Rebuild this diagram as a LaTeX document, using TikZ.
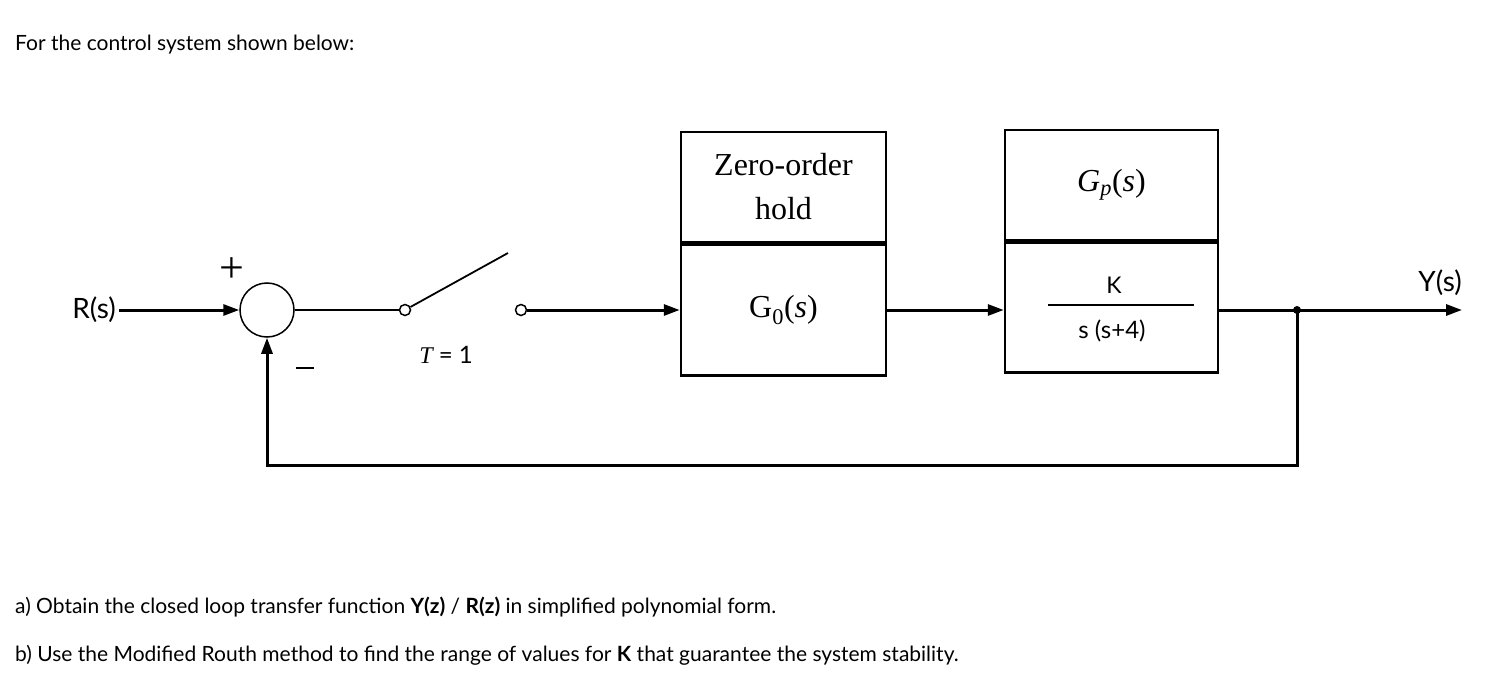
\documentclass[tikz,border=0pt]{standalone}
\usepackage{fontspec}
\setmainfont{Lato}
\newfontfamily\serif{Liberation Serif}
\usetikzlibrary{arrows.meta}
\begin{document}
\begin{tikzpicture}[x=1pt,y=-1pt,
  wire/.style={line width=3pt,-{Triangle[length=16pt,width=11pt]}},
  blk/.style={draw,line width=2.5pt,minimum width=205pt,inner sep=0pt},
  txt/.style={font=\fontsize{21}{24}\selectfont,anchor=west,inner sep=0pt}]
\useasboundingbox (0,0) rectangle (1510,690);
\node[txt] (title) at (15,45) {For the control system shown below:};
\node[txt] (qa) at (15,607) {a) Obtain the closed loop transfer function \textbf{Y(z)} / \textbf{R(z)} in simplified polynomial form.};
\node[txt] (qb) at (15,655) {b) Use the Modified Routh method to find the range of values for \textbf{K} that guarantee the system stability.};
\node[font=\fontsize{28}{30}\selectfont] (R) at (94,310) {R(s)};
\node[draw,circle,line width=1.5pt,minimum size=54pt,inner sep=0pt] (sum) at (267,310) {};
\node[font=\serif\fontsize{44}{44}\selectfont] (plus) at (232,270) {+};
\node[inner sep=0pt] (minus) at (305,368) {\rule{18pt}{2pt}};
\draw[wire] (R.east) -- (sum.west);
\node[draw,circle,line width=1.5pt,minimum size=11pt,inner sep=0pt] (s1) at (405,310) {};
\node[draw,circle,line width=1.5pt,minimum size=11pt,inner sep=0pt] (s2) at (521,310) {};
\coordinate (arm) at (508,253);
\draw[line width=1.8pt] (sum.east) -- (s1.west);
\draw[line width=1.8pt] (s1) -- (arm);
\node[font=\fontsize{24}{26}\selectfont] (T) at (446,355) {{\serif\itshape T} = 1};
\node[blk,minimum height=110pt,font=\serif\fontsize{32}{44}\selectfont,align=center] (zoh) at (783.5,187) {Zero-order\\hold};
\node[blk,minimum height=131pt,anchor=north,font=\serif\fontsize{32}{34}\selectfont] (g0) at (zoh.south) {G\textsubscript{0}(\textit{s})};
\draw[wire] (s2.east) -- (g0.west);
\node[blk,minimum height=110pt,minimum width=213pt,font=\serif\fontsize{32}{34}\selectfont] (gp) at (1111.5,185) {\textit{G\textsubscript{p}}(\textit{s})};
\node[blk,minimum height=130pt,minimum width=213pt,anchor=north] (tf) at (gp.south) {};
\node[font=\fontsize{23}{24}\selectfont] (K) at (1114,285) {K};
\node[font=\fontsize{24}{26}\selectfont] (den) at (1112,331) {s (s+4)};
\draw[line width=1.4pt] (1048,305) -- (1194,305);
\draw[wire] (g0.east |- 0,310) -- (tf.west |- 0,310);
\coordinate (br) at (1297,310);
\fill (br) circle (4pt);
\node[font=\fontsize{28}{30}\selectfont] (Y) at (1440,283) {Y(s)};
\coordinate (yend) at (1462,310);
\draw[wire] (tf.east |- 0,310) -- (yend);
\coordinate (c1) at (1297,465);
\coordinate (c2) at (267,465);
\draw[wire] (br) -- (c1) -- (c2) -- (sum.south);
\end{tikzpicture}
\end{document}
